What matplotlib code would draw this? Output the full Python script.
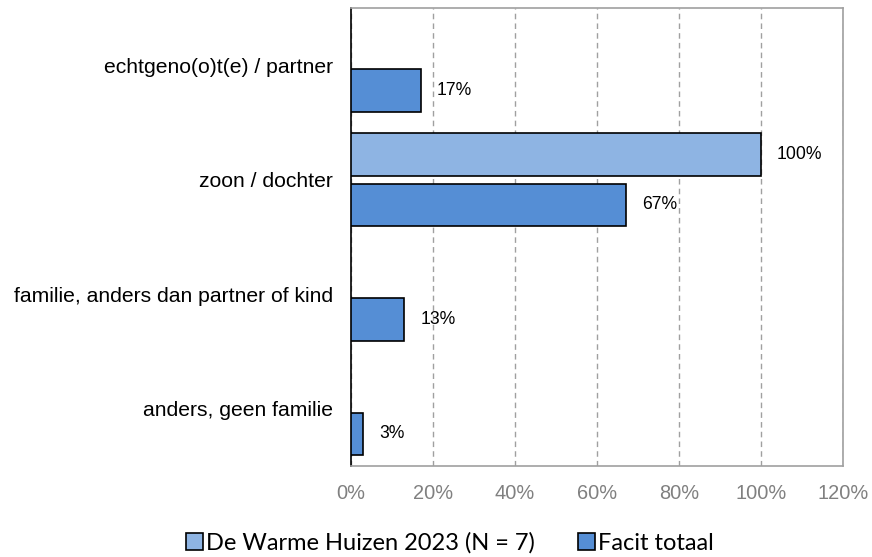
import matplotlib
matplotlib.use("Agg")
import matplotlib.pyplot as plt
import numpy as np
from matplotlib.patches import Patch

categories = ["echtgeno(o)t(e) / partner", "zoon / dochter",
              "familie, anders dan partner of kind", "anders, geen familie"]
series_names = ["De Warme Huizen 2023 (N = 7)", "Facit totaal"]
warme = [None, 100, None, None]
facit = [17, 67, 13, 3]
xticks = [0, 20, 40, 60, 80, 100, 120]
xtick_labels = [f"{v}%" for v in xticks]

colors = ["#8EB4E3", "#558ED5"]

fig = plt.figure(figsize=(8.72, 5.57), dpi=100)
ax = fig.add_axes([351/872, 1-466/557, (843-351)/872, (466-8)/557])

y = np.arange(len(categories))
off = 0.22
h = 0.37
for vals, col, sgn in [(warme, colors[0], -1), (facit, colors[1], 1)]:
    for yi, v in zip(y, vals):
        if v is None:
            continue
        ax.barh(yi + sgn*off, v, height=h, color=col, edgecolor="black",
                linewidth=1.2, zorder=3)
        ax.annotate(f"{v}%", xy=(v, yi + sgn*off), xytext=(11.5, 0),
                    textcoords="offset points", ha="left", va="center",
                    fontsize=12.7, family="Liberation Sans", color="black", zorder=4)

ax.set_xlim(0, 120)
ax.set_ylim(len(categories) - 0.5, -0.5)
ax.set_xticks(xticks)
ax.set_xticklabels(xtick_labels, color="#808080", fontsize=14.4, family="Liberation Sans")
ax.set_yticks(y)
ax.set_yticklabels(categories, fontsize=15.2, family="Liberation Sans")
ax.tick_params(axis="both", length=0)
ax.tick_params(axis="x", pad=13)
ax.tick_params(axis="y", pad=13)
ax.xaxis.grid(True, linestyle=(0, (4, 3)), color="#A0A0A0", linewidth=1, zorder=0)
ax.spines["left"].set_color("black")
ax.spines["left"].set_linewidth(1.2)
for s in ["top", "right", "bottom"]:
    ax.spines[s].set_color("#A0A0A0")
    ax.spines[s].set_linewidth(1.2)

handles = [Patch(facecolor=c, edgecolor="black", linewidth=1.2) for c in colors]
fig.legend(handles, series_names, loc="center", bbox_to_anchor=(450/872, 1-543/557),
           ncol=2, frameon=False, prop={"family": "Lato", "size": 17},
           handlelength=0.7, handleheight=0.7, handletextpad=0.12, columnspacing=1.85,
           borderpad=0, borderaxespad=0)

fig.savefig("out.png", dpi=100)
